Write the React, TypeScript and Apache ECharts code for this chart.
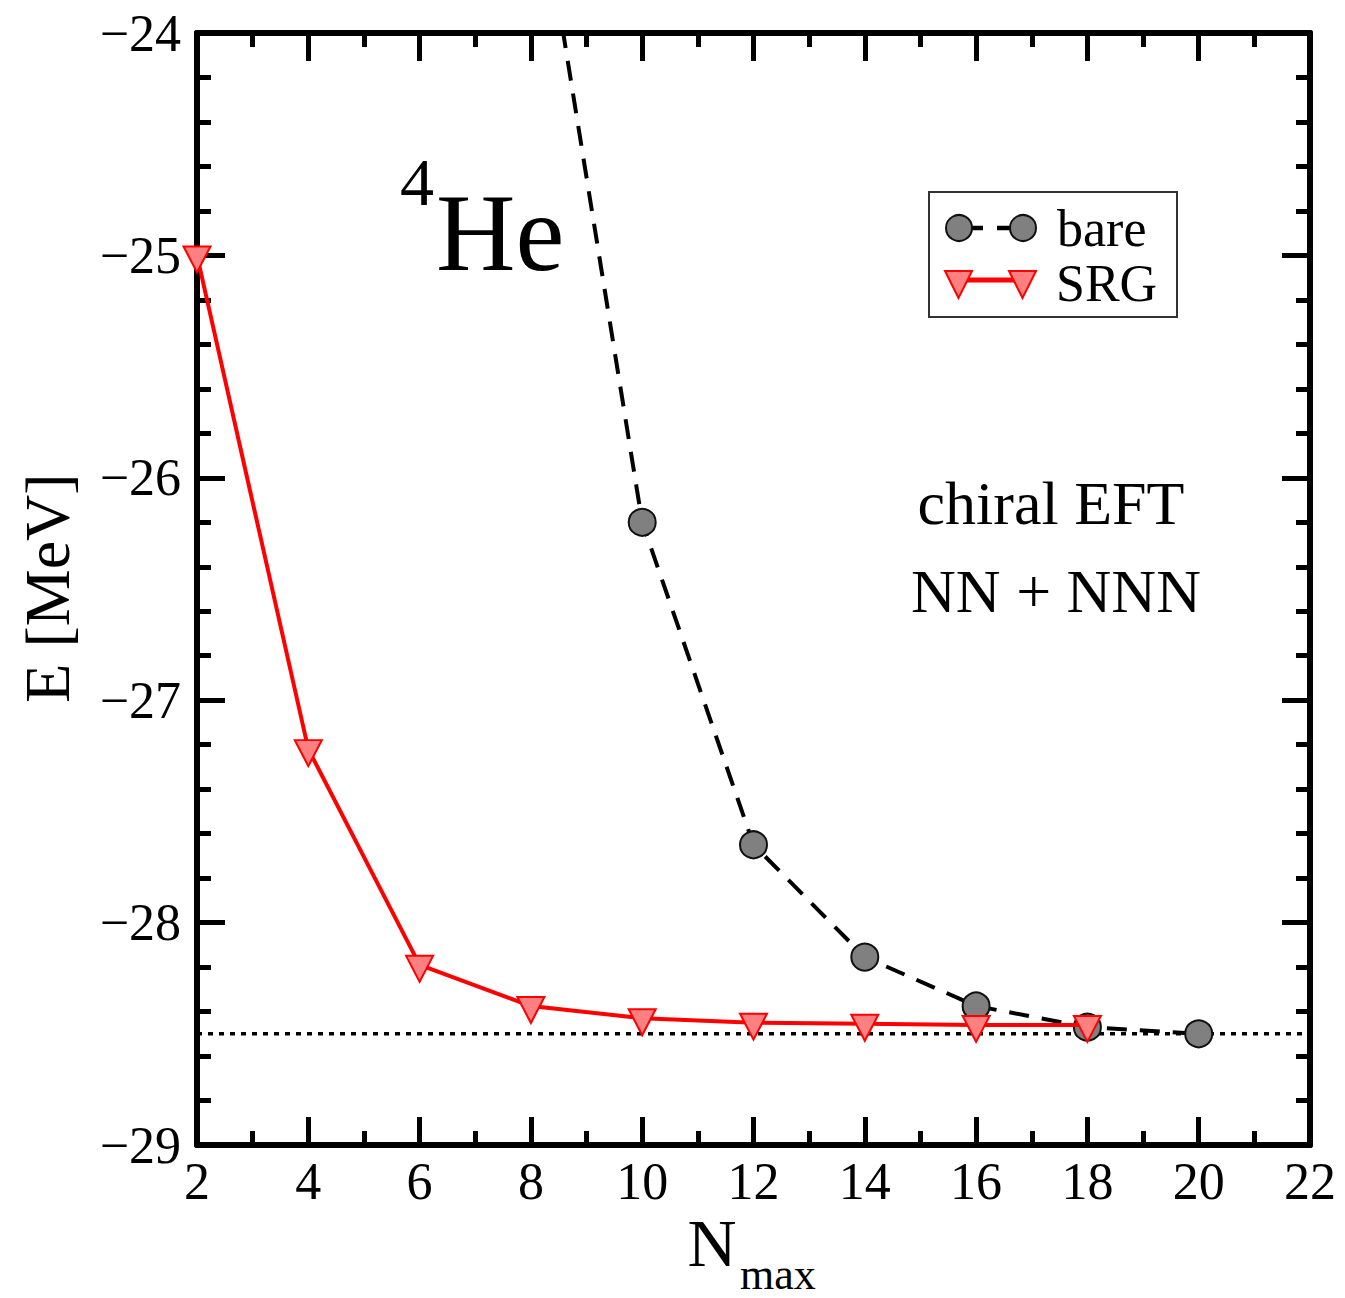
import React, { useEffect, useRef } from "react";
import * as echarts from "echarts";

// ---- data ----
const bareN = [8, 10, 12, 14, 16, 18, 20];
const bareE = [-23.1, -26.2, -27.65, -28.155, -28.375, -28.47, -28.5];
const srgN = [2, 4, 6, 8, 10, 12, 14, 16, 18];
const srgE = [-25.0, -27.22, -28.19, -28.375, -28.43, -28.45, -28.455, -28.46, -28.46];
const refN = [2, 22];
const refE = [-28.5, -28.5];
const seriesNames = ["bare", "SRG"];
const xTitle = "N";
const xTitleSub = "max";
const yTitle = "E [MeV]";
const nucleusMass = "4";
const nucleusName = "He";
const noteLines = ["chiral EFT", "NN + NNN"];

const FONT = "'Liberation Serif', 'Times New Roman', serif";

function axisBase(position: string, isX: boolean, showLabel: boolean) {
  return {
    type: "value",
    position,
    min: isX ? 2 : -29,
    max: isX ? 22 : -24,
    interval: isX ? 2 : 1,
    axisLine: { show: true, onZero: false, lineStyle: { color: "#000", width: 6 } },
    axisTick: { show: true, inside: true, length: 28, lineStyle: { color: "#000", width: 5 } },
    minorTick: { show: true, splitNumber: isX ? 2 : 5, length: 14, lineStyle: { color: "#000", width: 5 } },
    splitLine: { show: false },
    minorSplitLine: { show: false },
    axisLabel: {
      show: showLabel,
      fontFamily: FONT,
      fontSize: 52,
      color: "#000",
      margin: isX ? 10 : 16,
      formatter: isX ? (v: number) => String(v) : (v: number) => "\u2212" + Math.abs(v),
    },
  };
}

export default function App() {
  const ref = useRef<HTMLDivElement>(null);
  useEffect(() => {
    document.body.style.margin = "0";
    const chart = echarts.init(ref.current!, null, { renderer: "svg" });
    const option = {
      animation: false,
      backgroundColor: "#fff",
      grid: { left: 197, right: 35, top: 33, bottom: 153, containLabel: false },
      xAxis: [axisBase("bottom", true, true), axisBase("top", true, false)],
      yAxis: [axisBase("left", false, true), axisBase("right", false, false)],
      series: [
        {
          name: "ref",
          type: "line",
          data: refN.map((n, i) => [n, refE[i]]),
          showSymbol: false,
          symbol: "none",
          lineStyle: { color: "#000", width: 3.5, type: [5, 6] },
          z: 1,
        },
        {
          name: seriesNames[0],
          type: "line",
          clip: true,
          data: bareN.map((n, i) => [n, bareE[i]]),
          symbol: "circle",
          symbolSize: 27,
          itemStyle: { color: "#808080", borderColor: "#111", borderWidth: 2 },
          lineStyle: { color: "#000", width: 4, type: [20, 13] },
          z: 2,
        },
        {
          name: seriesNames[1],
          type: "line",
          clip: true,
          data: srgN.map((n, i) => [n, srgE[i]]),
          symbol: "triangle",
          symbolRotate: 180,
          symbolSize: [27, 26],
          symbolOffset: [0, 4],
          itemStyle: { color: "#ff8080", borderColor: "#ff0000", borderWidth: 2 },
          lineStyle: { color: "#ff0000", width: 4 },
          z: 3,
        },
      ],
      graphic: [
        { type: "text", z: 50, style: { text: nucleusMass, x: 400, y: 182, font: `68px ${FONT}`, fill: "#000", textAlign: "left", textVerticalAlign: "middle" } },
        { type: "text", z: 50, style: { text: nucleusName, x: 436, y: 233, font: `110px ${FONT}`, fill: "#000", textAlign: "left", textVerticalAlign: "middle" } },
        { type: "text", z: 50, style: { text: noteLines[0], x: 1051, y: 503, font: `62px ${FONT}`, fill: "#000", textAlign: "center", textVerticalAlign: "middle" } },
        { type: "text", z: 50, style: { text: noteLines[1], x: 1056, y: 591, font: `62px ${FONT}`, fill: "#000", textAlign: "center", textVerticalAlign: "middle" } },
        { type: "text", z: 50, style: { text: xTitle, x: 712, y: 1243, font: `68px ${FONT}`, fill: "#000", textAlign: "center", textVerticalAlign: "middle" } },
        { type: "text", z: 50, style: { text: xTitleSub, x: 740, y: 1274, font: `44px ${FONT}`, fill: "#000", textAlign: "left", textVerticalAlign: "middle" } },
        { type: "text", z: 50, x: 47, y: 588, rotation: Math.PI / 2, style: { text: yTitle, x: 0, y: 0, font: `64px ${FONT}`, fill: "#000", textAlign: "center", textVerticalAlign: "middle" } },
        {
          type: "group",
          z: 60,
          children: [
            { type: "rect", shape: { x: 929, y: 192, width: 248, height: 125 }, style: { fill: "#fff", stroke: "#333", lineWidth: 2 } },
            { type: "line", shape: { x1: 960, y1: 228, x2: 1022, y2: 228 }, style: { stroke: "#000", lineWidth: 4.5, lineDash: [15, 14], lineDashOffset: -8 } },
            { type: "circle", shape: { cx: 959, cy: 228, r: 13 }, style: { fill: "#808080", stroke: "#111", lineWidth: 2 } },
            { type: "circle", shape: { cx: 1023, cy: 228, r: 13 }, style: { fill: "#808080", stroke: "#111", lineWidth: 2 } },
            { type: "line", shape: { x1: 959, y1: 280, x2: 1023, y2: 280 }, style: { stroke: "#ff0000", lineWidth: 5 } },
            { type: "polygon", shape: { points: [[945, 271], [972, 271], [958.5, 298]] }, style: { fill: "#ff8080", stroke: "#ff0000", lineWidth: 2 } },
            { type: "polygon", shape: { points: [[1009, 271], [1036, 271], [1022.5, 298]] }, style: { fill: "#ff8080", stroke: "#ff0000", lineWidth: 2 } },
            { type: "text", style: { text: seriesNames[0], x: 1057, y: 228, font: `52px ${FONT}`, fill: "#000", textAlign: "left", textVerticalAlign: "middle" } },
            { type: "text", style: { text: seriesNames[1], x: 1056, y: 283, font: `52px ${FONT}`, fill: "#000", textAlign: "left", textVerticalAlign: "middle" } },
          ],
        },
      ],
    };
    chart.setOption(option as any);
    return () => chart.dispose();
  }, []);
  return <div ref={ref} style={{ width: 1345, height: 1298 }} />;
}
